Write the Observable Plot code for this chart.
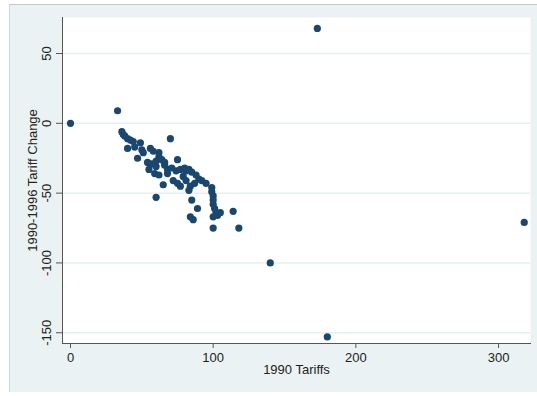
<!DOCTYPE html>
<html><head><meta charset="utf-8">
<script src="https://cdn.jsdelivr.net/npm/d3@7"></script>
<script src="https://cdn.jsdelivr.net/npm/@observablehq/plot@0.6"></script>
<style>
html,body{margin:0;padding:0;background:#fff;}
#wrap{position:relative;width:537px;height:396px;overflow:hidden;}
#outer{position:absolute;left:9px;top:4px;width:528px;height:387px;background:#eaf2f3;border-top:1px solid #c4cacb;border-left:1px solid #d0d7d8;}
#chart{position:absolute;left:0;top:0;}
</style></head>
<body>
<div id="wrap"><div id="outer"></div><div id="chart"></div></div>
<script>
const tariff1990 = [0,33,36,37,38,40,42,44,40,45,49,50,47,51,56,58,62,70,54,57,60,62,64,55,59,62,60,66,68,71,75,74,77,80,81,83,85,88,90,92,95,72,75,77,81,84,87,83,65,60,85,89,84,86,99,99,100,100,100,101,102,105,100,103,100,114,118,140,180,173,318,68,79,66];
const tariffChange = [0,9,-6,-8,-9,-11,-12,-13,-18,-17,-14,-19,-25,-21,-18,-20,-21,-11,-28,-29,-27,-24,-26,-33,-36,-37,-31,-30,-33,-32,-26,-34,-33,-32,-34,-33,-35,-37,-40,-41,-43,-41,-43,-45,-41,-45,-43,-48,-44,-53,-55,-61,-67,-69,-46,-49,-52,-55,-58,-61,-64,-64,-67,-66,-75,-63,-75,-100,-153,68,-71,-36,-38,-28];
const xTicks = [0,100,200,300];
const yTicks = [50,0,-50,-100,-150];
const xTitle = "1990 Tariffs";
const yTitle = "1990-1996 Tariff Change";

const data = tariff1990.map((x,i)=>({x, y: tariffChange[i]}));
const font = "Liberation Sans, Arial, Helvetica, sans-serif";
const chart = Plot.plot({
  width:537, height:396,
  marginLeft:62, marginTop:17, marginBottom:53, marginRight:7,
  style:{background:"transparent", fontFamily:font, fontSize:"13px", color:"#222"},
  x:{domain:[-5.6,322.4]},
  y:{domain:[-157.7,75.8]},
  marks:[
    Plot.frame({fill:"white", stroke:null}),
    Plot.gridY(yTicks, {stroke:"#e6eff0", strokeOpacity:1, strokeWidth:1.5}),
    Plot.axisY(yTicks, {tickSize:6, tickFormat:()=>"", label:null, stroke:"#555"}),
    Plot.text(yTicks, {y:d=>d, frameAnchor:"left", dx:-16, rotate:-90, textAnchor:"middle", text:d=>String(d), fontSize:13, fill:"#222", fontFamily:font}),
    Plot.axisX(xTicks, {tickSize:5, tickPadding:4, label:null, fontSize:13, stroke:"#555", tickFormat:d=>String(d), fontFamily:font}),
    Plot.frame({anchor:"left", stroke:"#555"}),
    Plot.frame({anchor:"bottom", stroke:"#555"}),
    Plot.dot(data, {x:"x", y:"y", r:3.6, fill:"#1a476f"}),
    Plot.text([xTitle], {frameAnchor:"bottom", dy:30, fontSize:13, fill:"#222", fontFamily:font}),
    Plot.text([yTitle], {frameAnchor:"left", dx:-30, rotate:-90, textAnchor:"middle", fontSize:13, fill:"#222", fontFamily:font})
  ]
});
document.getElementById("chart").appendChild(chart);
</script>
</body></html>
